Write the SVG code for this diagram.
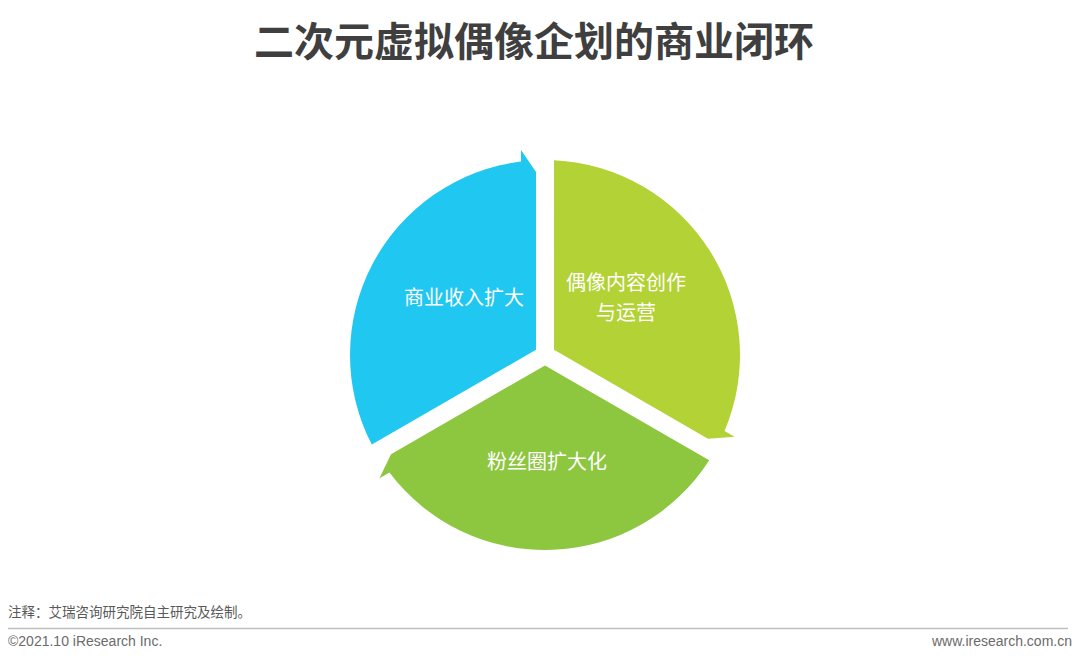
<svg xmlns="http://www.w3.org/2000/svg" width="1080" height="663" viewBox="0 0 1080 663">
<style>
.title{font-family:"Noto Sans CJK SC","Noto Sans",sans-serif;font-weight:700;font-size:40px;fill:#3f3f3f}
.lbl{font-family:"Noto Sans CJK SC","Noto Sans",sans-serif;font-size:20px;fill:#ffffff;text-anchor:middle}
.note{font-family:"Liberation Sans","Noto Sans CJK SC",sans-serif;font-size:13.5px;fill:#595959}
.foot{font-family:"Liberation Sans","Noto Sans CJK SC",sans-serif;font-size:14px;fill:#6b6b6b}
</style>
<defs>
<path id="seg" d="M536,349.8 L371.8,444.6 A195,195 0 0 1 521,161.5 L521,150 L536,172 Z"/>
</defs>
<rect width="1080" height="663" fill="#ffffff"/>
<text class="title" x="534" y="56" text-anchor="middle">二次元虚拟偶像企划的商业闭环</text>
<g id="connectors"></g>
<g id="node-revenue">
<use href="#seg" fill="#1fc7f1"/>
<text class="lbl" x="464" y="305">商业收入扩大</text>
</g>
<g id="node-content">
<use href="#seg" fill="#b2d235" transform="rotate(120 545 355)"/>
<text class="lbl" x="626" y="290">偶像内容创作</text>
<text class="lbl" x="626" y="320">与运营</text>
</g>
<g id="node-fans">
<use href="#seg" fill="#8dc63f" transform="rotate(240 545 355)"/>
<text class="lbl" x="547" y="469">粉丝圈扩大化</text>
</g>
<text class="note" x="8" y="617">注释：艾瑞咨询研究院自主研究及绘制。</text>
<line x1="8" y1="628.5" x2="1068" y2="628.5" stroke="#bfbfbf" stroke-width="1.5"/>
<text class="foot" x="8" y="646">©2021.10 iResearch Inc.</text>
<text class="foot" x="1072" y="646" text-anchor="end">www.iresearch.com.cn</text>
</svg>
